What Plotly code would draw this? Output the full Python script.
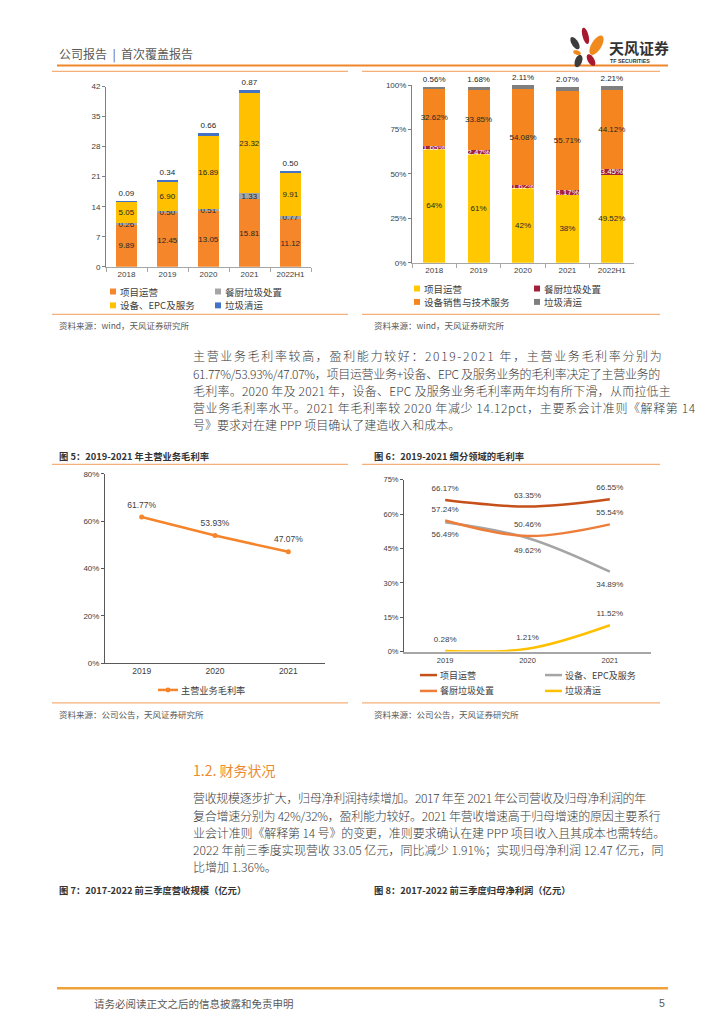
import math
import plotly.graph_objects as go

# page is drawn inside the browser's default 8px body margin
OFF = 8
W, H = 724 - OFF, 1024 - OFF
def X(p): return (p - OFF) / W
def Y(p): return 1 - (p - OFF) / H

CJK = "Noto Sans CJK SC"
NUM = "Liberation Sans, Noto Sans CJK SC"

# ---------------- data ----------------
years_a = ["2018", "2019", "2020", "2021", "2022H1"]
rev_project = [9.89, 12.45, 13.05, 15.81, 11.12]
rev_kitchen = [0.26, 0.50, 0.51, 1.33, 0.77]
rev_equip = [5.05, 6.90, 16.89, 23.32, 9.91]
rev_clean = [0.09, 0.34, 0.66, 0.87, 0.50]

share_project = [64, 61, 42, 38, 49.52]
share_kitchen = [1.65, 2.47, 1.62, 3.17, 3.45]
share_equip = [32.62, 33.85, 54.08, 55.71, 44.12]
share_clean = [0.56, 1.68, 2.11, 2.07, 2.21]

years_b = ["2019", "2020", "2021"]
gm_total = [61.77, 53.93, 47.07]
gm_project = [66.17, 63.35, 66.55]
gm_equip = [56.49, 49.62, 34.89]
gm_kitchen = [57.24, 50.46, 55.54]
gm_clean = [0.28, 1.21, 11.52]

legend_a = ["项目运营", "餐厨垃圾处置", "设备、EPC及服务", "垃圾清运"]
legend_b = ["项目运营", "餐厨垃圾处置", "设备销售与技术服务", "垃圾清运"]
legend_c = ["主营业务毛利率"]
legend_d = ["项目运营", "设备、EPC及服务", "餐厨垃圾处置", "垃圾清运"]

col_a = ["#F5862A", "#A5A5A5", "#FFC000", "#4472C4"]
col_b = ["#FFC800", "#A3203B", "#F5861F", "#7F7F7F"]
col_c = "#F5842A"
col_d = ["#C5501A", "#A5A5A5", "#EE7D3A", "#FFC000"]

TXT = "#404040"
CLEAR = "rgba(0,0,0,0)"

fig = go.Figure()

# ---------------- chart 3: stacked revenue ----------------
def bar(x, y, color, xa, ya, text, tcolor="#262626", pos="inside", size=8.3):
    return go.Bar(x=x, y=y, marker=dict(color=color, line=dict(width=0)), width=0.5,
                  xaxis=xa, yaxis=ya, text=text, textposition=pos, textangle=0,
                  insidetextanchor="middle", constraintext="none",
                  textfont=dict(size=size, color=tcolor, family=NUM),
                  cliponaxis=False, showlegend=False, hoverinfo="skip")

f2 = lambda v: [f"{a:.2f}" for a in v]
fp = lambda v: [f"{a:g}%" for a in v]

fig.add_trace(bar(years_a, rev_project, col_a[0], "x", "y", f2(rev_project)))
fig.add_trace(bar(years_a, rev_kitchen, col_a[1], "x", "y", f2(rev_kitchen)))
fig.add_trace(bar(years_a, rev_equip, col_a[2], "x", "y", f2(rev_equip)))
fig.add_trace(bar(years_a, rev_clean, col_a[3], "x", "y", f2(rev_clean), pos="outside"))

# ---------------- chart 4: stacked share ----------------
fig.add_trace(bar(years_a, share_project, col_b[0], "x2", "y2", fp(share_project), size=8))
fig.add_trace(bar(years_a, share_kitchen, col_b[1], "x2", "y2", fp(share_kitchen), tcolor="#FFFFFF", size=8))
fig.add_trace(bar(years_a, share_equip, col_b[2], "x2", "y2", fp(share_equip), size=8))
fig.add_trace(bar(years_a, share_clean, col_b[3], "x2", "y2", fp(share_clean), pos="outside", size=8))

# ---------------- chart 5: total gross margin ----------------
fig.add_trace(go.Scatter(x=years_b, y=gm_total, mode="lines+markers", xaxis="x3", yaxis="y3",
                         line=dict(color=col_c, width=2.5), marker=dict(size=5, color=col_c),
                         cliponaxis=False, showlegend=False, hoverinfo="skip"))
fig.add_trace(go.Scatter(x=years_b, y=gm_total, mode="markers+text", xaxis="x3", yaxis="y3",
                         marker=dict(size=10, color=CLEAR),
                         text=[f"{v:.2f}%" for v in gm_total], textposition="top center",
                         textfont=dict(size=8.5, color=TXT, family=NUM),
                         cliponaxis=False, showlegend=False, hoverinfo="skip"))

# ---------------- chart 6: segment gross margin ----------------
series_d = [gm_project, gm_equip, gm_kitchen, gm_clean]
pos_d = ["top center", "bottom center", "top center", "top center"]
for vals, c, p in zip(series_d, col_d, pos_d):
    fig.add_trace(go.Scatter(x=years_b, y=vals, mode="lines+markers+text", xaxis="x4", yaxis="y4",
                             line=dict(color=c, width=2.5, shape="spline", smoothing=1),
                             marker=dict(size=13 if p.startswith("bottom") else 9.5, color=CLEAR),
                             text=[f"{v:.2f}%" for v in vals], textposition=p,
                             textfont=dict(size=8, color=TXT, family=NUM),
                             cliponaxis=False, showlegend=False, hoverinfo="skip"))

# ---------------- axes ----------------
def xax(d0, d1, anchor, n, size=8, ticks="outside", tl=4, lc="#A6A6A6", lw=1):
    return dict(domain=[X(d0), X(d1)], anchor=anchor, type="category", showgrid=False,
                range=[-0.5, n - 0.5],
                showline=True, linecolor=lc, linewidth=lw, ticks=ticks, tickson="boundaries",
                ticklen=tl, tickcolor=lc, tickfont=dict(size=size, color=TXT, family=NUM),
                zeroline=False, fixedrange=True)

def yax(d0, d1, anchor, rng, dt, suffix="", size=8, lc="#808080"):
    return dict(domain=[Y(d0), Y(d1)], anchor=anchor, range=rng, dtick=dt, tick0=0,
                ticksuffix=suffix, showgrid=False, showline=True, linecolor=lc, linewidth=1,
                ticks="outside", ticklen=3, tickcolor=lc, zeroline=False,
                tickfont=dict(size=size, color=TXT, family=NUM), fixedrange=True)

fig.update_layout(
    xaxis=xax(106, 311, "y", len(years_a)),
    yaxis=yax(265, 83.3, "x", [0, 42], 7),
    xaxis2=xax(412, 634, "y2", len(years_a)),
    yaxis2=yax(261, 81.7, "x2", [0, 100], 25, "%"),
    xaxis3=xax(105, 325, "y3", len(years_b), size=8.5, ticks="", lc="#595959"),
    yaxis3=yax(665, 474, "x3", [0, 80], 20, "%", size=8, lc="#595959"),
    xaxis4=xax(404, 651, "y4", len(years_b), size=7.5, ticks="", lc="#A6A6A6", lw=2),
    yaxis4=yax(653.3, 480, "x4", [0, 75], 15, "%", size=7.5, lc="#595959"),
)

# ---------------- page decoration ----------------
shapes = []
annots = []

def hline(x0, x1, y, color, w):
    shapes.append(dict(type="line", xref="paper", yref="paper", x0=X(x0), x1=X(x1),
                       y0=Y(y), y1=Y(y), line=dict(color=color, width=w), layer="above"))

def txt(x, y, s, size=9, color=TXT, family=CJK, anchor="left", bold=False, ls=None, weight=None):
    if ls:
        s = f"<span style='letter-spacing:{ls}px'>{s}</span>"
    if bold:
        s = f"<b>{s}</b>"
    font = dict(size=size, color=color, family=family)
    if weight:
        font["weight"] = weight
    annots.append(dict(xref="paper", yref="paper", x=X(x), y=Y(y), text=s, showarrow=False,
                       xanchor=anchor, yanchor="middle", font=font))

def sq(x, y, color, s=6):
    shapes.append(dict(type="rect", xref="paper", yref="paper", x0=X(x - s / 2), x1=X(x + s / 2),
                       y0=Y(y + s / 2), y1=Y(y - s / 2), fillcolor=color, line=dict(width=0)))

def seg(x0, x1, y, color, w=2.5):
    shapes.append(dict(type="line", xref="paper", yref="paper", x0=X(x0), x1=X(x1),
                       y0=Y(y), y1=Y(y), line=dict(color=color, width=w)))

def petal(cx, cy, length, width, ang, color):
    a = math.radians(ang)
    pts = []
    for i in range(28):
        t = 2 * math.pi * i / 28
        ex = (length / 2) * math.cos(t)
        ey = (width / 2) * math.sin(t)
        px = cx + ex * math.cos(a) - ey * math.sin(a)
        py = cy + ex * math.sin(a) + ey * math.cos(a)
        pts.append(f"{X(px):.5f},{Y(py):.5f}")
    shapes.append(dict(type="path", xref="paper", yref="paper",
                       path="M " + " L ".join(pts) + " Z", fillcolor=color, line=dict(width=0)))

ORANGE = "#F0862A"
LIGHT = "#F5B07A"

# header
txt(57, 50, "公司报告  |  首次覆盖报告", size=12, color="#595959")
hline(57, 668, 62, ORANGE, 2)
petal(575, 39.5, 14, 6.5, 58, "#3C3C3C")
petal(585.5, 32, 17, 6, 75, "#A6192E")
petal(596.5, 41.5, 22, 10, 121, "#F08A1C")
petal(577, 49, 8, 4.5, 20, "#F08A1C")
petal(578.5, 57.5, 13, 7, 110, "#3C3C3C")
petal(591, 56.5, 13, 6.5, 60, "#A6192E")
txt(607, 43.5, "天风证券", size=15, color="#333333", bold=True)
txt(608, 57.5, "TF SECURITIES", size=5.3, color="#333333", family=NUM, bold=True)

# top chart frames
hline(52, 348, 68, LIGHT, 1.2)
hline(362, 660, 68, LIGHT, 1.2)
hline(52, 348, 313, LIGHT, 1.2)
hline(362, 660, 313, LIGHT, 1.2)
txt(57, 324, "资料来源：wind，天风证券研究所", size=8.5, color="#595959")
txt(372, 324, "资料来源：wind，天风证券研究所", size=8.5, color="#595959")

# legend chart 3
for (lx, ly), name, c in zip([(113, 290), (218, 290), (113, 304), (218, 304)], legend_a, col_a):
    sq(lx, ly, c)
    txt(lx + 5, ly, name, size=9.5)
# legend chart 4
for (lx, ly), name, c in zip([(417, 287), (537, 287), (417, 300.5), (537, 300.5)], legend_b, col_b):
    sq(lx, ly, c)
    txt(lx + 5, ly, name, size=9.5)

# paragraph 1 (letter spacing approximates the justified layout)
para1 = ["主营业务毛利率较高，盈利能力较好：2019-2021 年，主营业务毛利率分别为",
         "61.77%/53.93%/47.07%，项目运营业务+设备、EPC 及服务业务的毛利率决定了主营业务的",
         "毛利率。2020 年及 2021 年，设备、EPC 及服务业务毛利率两年均有所下滑，从而拉低主",
         "营业务毛利率水平。2021 年毛利率较 2020 年减少 14.12pct，主要系会计准则《解释第 14",
         "号》要求对在建 PPP 项目确认了建造收入和成本。"]
ls1 = [1.65, -0.3, 0.22, 0.6, None]
for i, (line, ls) in enumerate(zip(para1, ls1)):
    txt(191, 355 + i * 17.4, line, size=12, color="#3A3A3A", ls=ls, weight=300)

# middle chart frames
txt(57, 456, "图 5：2019-2021 年主营业务毛利率", size=9.3, color="#333333", bold=True)
txt(372, 456, "图 6：2019-2021 细分领域的毛利率", size=9.3, color="#333333", bold=True)
hline(52, 348, 464.5, LIGHT, 1.2)
hline(362, 660, 464.5, LIGHT, 1.2)
hline(52, 348, 705, LIGHT, 1.2)
hline(362, 660, 705, LIGHT, 1.2)
txt(57, 716, "资料来源：公司公告，天风证券研究所", size=8.5, color="#595959")
txt(372, 716, "资料来源：公司公告，天风证券研究所", size=8.5, color="#595959")

# legend chart 5
seg(158, 178, 692, col_c, 2.5)
shapes.append(dict(type="circle", xref="paper", yref="paper", x0=X(165.5), x1=X(170.5),
                   y0=Y(694.5), y1=Y(689.5), fillcolor=col_c, line=dict(width=0)))
txt(179, 692, legend_c[0], size=9.2)

# legend chart 6
for (lx, ly), name, c in zip([(420, 677), (545, 677), (420, 693), (545, 693)], legend_d, col_d):
    seg(lx, lx + 17, ly, c, 2.5)
    txt(lx + 18, ly, name, size=9)

# section 1.2
txt(191, 773, "1.2. 财务状况", size=14, color="#EE8A2E")
para2 = ["营收规模逐步扩大，归母净利润持续增加。2017 年至 2021 年公司营收及归母净利润的年",
         "复合增速分别为 42%/32%，盈利能力较好。2021 年营收增速高于归母增速的原因主要系行",
         "业会计准则《解释第 14 号》的变更，准则要求确认在建 PPP 项目收入且其成本也需转结。",
         "2022 年前三季度实现营收 33.05 亿元，同比减少 1.91%；实现归母净利润 12.47 亿元，同",
         "比增加 1.36%。"]
ls2 = [-0.32, -0.25, -0.12, 0.05, None]
for i, (line, ls) in enumerate(zip(para2, ls2)):
    txt(191, 801 + i * 17.3, line, size=12, color="#3A3A3A", ls=ls, weight=300)

txt(57, 894, "图 7：2017-2022 前三季度营收规模（亿元）", size=9.3, color="#333333", bold=True)
txt(372, 894, "图 8：2017-2022 前三季度归母净利润（亿元）", size=9.3, color="#333333", bold=True)

# footer
hline(57, 668, 993, "#EFA13A", 2.5)
txt(92, 1008, "请务必阅读正文之后的信息披露和免责申明", size=10.5, color="#595959")
txt(662, 1008, "5", size=10.5, color="#595959", anchor="center", family=NUM)

fig.update_layout(
    width=W, height=H, autosize=False,
    margin=dict(l=0, r=0, t=0, b=0, pad=0),
    paper_bgcolor="white", plot_bgcolor="white",
    barmode="stack", showlegend=False,
    uniformtext=dict(minsize=8, mode="show"),
    font=dict(family=CJK, color=TXT),
    shapes=shapes, annotations=annots,
)

fig.write_html("out.html")
